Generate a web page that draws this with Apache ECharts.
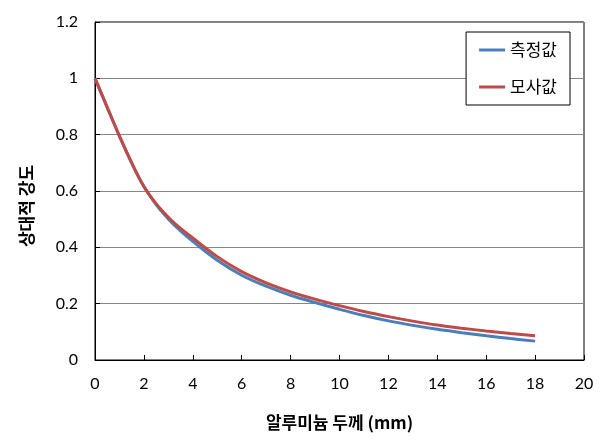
<!DOCTYPE html>
<html><head><meta charset="utf-8">
<script src="https://cdn.jsdelivr.net/npm/echarts@6/dist/echarts.min.js"></script>
<style>html,body{margin:0;padding:0;background:#fff}#c{width:611px;height:440px}</style>
</head><body><div id="c"></div>
<script>
const thickness = [0,0.5,1,1.5,2,2.5,3,3.5,4,5,6,7,8,9,10,11,12,13,14,15,16,17,18];
const measured = [1,0.897,0.795,0.700,0.616,0.552,0.501,0.458,0.421,0.354,0.301,0.262,0.230,0.204,0.180,0.158,0.139,0.123,0.109,0.097,0.086,0.076,0.067];
const simulated = [1,0.897,0.795,0.700,0.616,0.555,0.507,0.467,0.433,0.367,0.314,0.274,0.242,0.216,0.193,0.172,0.154,0.138,0.124,0.113,0.103,0.094,0.086];
const seriesNames = ['측정값','모사값'];
const xTitle = '알루미늄 두께 (mm)';
const yTitle = '상대적 강도';

const chart = echarts.init(document.getElementById('c'));
const pair = (ys) => thickness.map((x,i)=>[x, ys[i]]);
chart.setOption({
  animation:false,
  grid:{left:95,right:27,top:22,bottom:80,show:true,borderColor:'#000',borderWidth:1,containLabel:false},
  legend:{
    right:41, top:32, orient:'vertical',
    borderColor:'#000', borderWidth:1, backgroundColor:'#fff',
    padding:[8,13,8,13], itemGap:17, itemWidth:26, itemHeight:3, icon:'rect',
    textStyle:{fontFamily:'Noto Sans CJK KR',fontSize:17,color:'#000',lineHeight:20},
    data:seriesNames
  },
  xAxis:{type:'value',min:0,max:20,interval:2,
    axisLine:{show:true,lineStyle:{color:'#000'}},
    axisTick:{show:true,inside:true,length:5,lineStyle:{color:'#000'}},
    axisLabel:{fontFamily:'Lato',fontSize:16,color:'#000',margin:16},
    splitLine:{show:false},
    name:xTitle,nameLocation:'middle',nameGap:54,
    nameTextStyle:{fontFamily:'Noto Sans CJK KR',fontWeight:'bold',fontSize:17,color:'#000'}
  },
  yAxis:{type:'value',min:0,max:1.2,interval:0.2,
    axisLine:{show:true,lineStyle:{color:'#000'}},
    axisTick:{show:true,inside:true,length:5,lineStyle:{color:'#000'}},
    axisLabel:{fontFamily:'Lato',fontSize:16,color:'#000',margin:17,
      formatter:(v)=>String(Math.round(v*10)/10)},
    splitLine:{show:true,lineStyle:{color:'#868686',width:1}}
  },
  graphic:[{type:'text',x:27,y:206,rotation:Math.PI/2,
    style:{text:yTitle,align:'center',verticalAlign:'middle',fontFamily:'Noto Sans CJK KR',fontWeight:'bold',fontSize:17,fill:'#000'}}],
  series:[
    {name:seriesNames[0],type:'line',data:pair(measured),smooth:0.4,symbol:'none',
     lineStyle:{color:'#4A7EBB',width:3},itemStyle:{color:'#4A7EBB'}},
    {name:seriesNames[1],type:'line',data:pair(simulated),smooth:0.4,symbol:'none',
     lineStyle:{color:'#BE4B48',width:3},itemStyle:{color:'#BE4B48'}}
  ]
});
</script></body></html>
